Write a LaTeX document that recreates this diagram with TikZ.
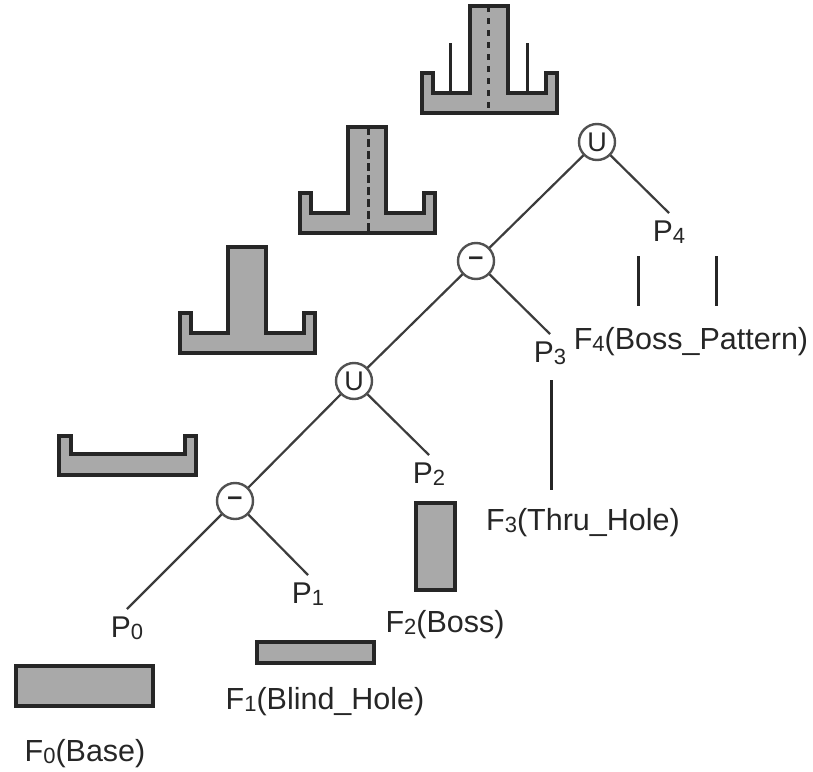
\documentclass[tikz,border=0pt]{standalone}
\usepackage{fontspec}
\setmainfont{Liberation Sans}
\definecolor{partgray}{HTML}{A9A9A9}
\definecolor{inkgray}{HTML}{262626}
\tikzset{
    partshape/.style={draw=inkgray, fill=partgray, line width=3.6pt, line join=miter},
    thinbar/.style={draw=inkgray, line width=3pt},
    treeline/.style={draw=inkgray!90, line width=2.2pt},
    opnode/.style={circle, draw=inkgray!80, fill=white, line width=2.4pt, minimum size=36pt, inner sep=0pt, font=\fontsize{27}{27}\selectfont, text=inkgray},
    primnode/.style={anchor=north, inner sep=8pt, font=\fontsize{30}{30}\selectfont, text=inkgray},
    featlabel/.style={inner sep=0pt, font=\fontsize{30.5}{30.5}\selectfont, text=inkgray},
}
\newcommand{\dig}[1]{\raisebox{-1.5pt}{\fontsize{22}{22}\selectfont #1}}
\begin{document}
\begin{tikzpicture}[x=1pt, y=-1pt]
    \useasboundingbox (0,0) rectangle (813,771);

    % profiles with a stem
    \foreach \x/\y/\t in {422/113/6, 300/233/127, 180/353/247} {
        \draw[partshape] (\x,\y) -- ++(0,-40) -- ++(11,0) -- ++(0,20) -- ++(37,0) |- (\x+86,\t)
            |- (\x+124,\y-20) -- ++(0,-20) -- ++(11,0) -- ++(0,40) -- cycle;
    }
    % profile with no stem
    \draw[partshape] (59,475) -- (59,436) -- (71,436) -- (71,454) -- (185,454) -- (185,436)
        -- (196,436) -- (196,475) -- cycle;

    % hole axes
    \draw[inkgray, line width=3pt, dash pattern=on 6pt off 6pt] (488,6) -- (488,113);
    \draw[inkgray, line width=3pt, dash pattern=on 8pt off 4pt] (368,127) -- (368,233);

    % pattern bars
    \draw[thinbar] (450,43) -- (450,93);
    \draw[thinbar] (527,43) -- (527,93);
    \draw[thinbar] (638,256) -- (638,306);
    \draw[thinbar] (716,256) -- (716,306);
    \draw[thinbar] (551,380) -- (551,490);

    % feature blocks
    \draw[partshape] (16,666) rectangle (153,706);
    \draw[partshape] (257,642) rectangle (374,663);
    \draw[partshape] (416,503) rectangle (455,590);

    % csg tree
    \node[primnode] (P0) at (127,609) {P\dig{0}};
    \node[primnode] (P1) at (308,575) {P\dig{1}};
    \node[primnode] (P2) at (429,455) {P\dig{2}};
    \node[primnode] (P3) at (550,334) {P\dig{3}};
    \node[primnode] (P4) at (669,213) {P\dig{4}};

    \coordinate (Ua) at (597,142);
    \coordinate (Ma) at (476,261);
    \coordinate (Ub) at (354,381);
    \coordinate (Mb) at (235,501);
    \draw[treeline] (Ua) -- (Ma) -- (Ub) -- (Mb) -- (P0.north);
    \draw[treeline] (Ua) -- (P4.north);
    \draw[treeline] (Ma) -- (P3.north);
    \draw[treeline] (Ub) -- (P2.north);
    \draw[treeline] (Mb) -- (P1.north);

    \node[opnode] (opUa) at (Ua) {U};
    \node[opnode] (opMa) at (Ma) {\textbf{–}};
    \node[opnode] (opUb) at (Ub) {U};
    \node[opnode] (opMb) at (Mb) {\textbf{–}};

    % feature names
    \node[featlabel] (F0) at (85,754) {F\dig{0}(Base)};
    \node[featlabel] (F1) at (325,702) {F\dig{1}(Blind\_Hole)};
    \node[featlabel] (F2) at (445,625) {F\dig{2}(Boss)};
    \node[featlabel] (F3) at (583,523) {F\dig{3}(Thru\_Hole)};
    \node[featlabel] (F4) at (691,342) {F\dig{4}(Boss\_Pattern)};
\end{tikzpicture}
\end{document}
